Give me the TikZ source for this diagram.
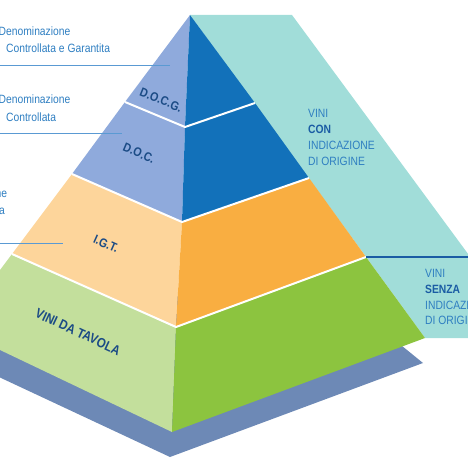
\documentclass[tikz,border=0pt]{standalone}
\usepackage{fontspec}
\setmainfont[FakeStretch=0.86]{Liberation Sans}

\definecolor{periwinkle}{HTML}{8FAADC}
\definecolor{deepblue}{HTML}{1271BA}
\definecolor{peach}{HTML}{FDD59B}
\definecolor{amber}{HTML}{F9AE41}
\definecolor{palegreen}{HTML}{C3DF9C}
\definecolor{leafgreen}{HTML}{8CC43F}
\definecolor{aqua}{HTML}{A1DDD9}
\definecolor{slateblue}{HTML}{6D89B6}
\definecolor{leaderblue}{HTML}{5A9AD3}
\definecolor{noteblue}{HTML}{2E7EC1}
\definecolor{tiernavy}{HTML}{1B4B85}
\definecolor{boldblue}{HTML}{1A5CA4}

\begin{document}
\begin{tikzpicture}[x=1pt,y=-1pt,
        leader/.style={draw=leaderblue,line width=0.9pt},
        tierline/.style={draw=white,line width=2pt,line join=round},
        tier/.style={font=\fontsize{12.5}{12.5}\selectfont\bfseries,
            text=tiernavy,inner sep=0pt},
        sidetext/.style={font=\fontsize{12}{12}\selectfont,text=noteblue,
            anchor=base west,inner sep=0pt}]
\useasboundingbox (0,0) rectangle (468,468);
\clip (0,0) rectangle (468,468);

\coordinate (apex) at (190,15);
\coordinate (l1) at (125,102);
\coordinate (l2) at (72,174);
\coordinate (l3) at (12,254);
\coordinate (l4) at (-44,329);
\coordinate (f1) at (185,127);
\coordinate (f2) at (182,222);
\coordinate (f3) at (176,327);
\coordinate (f4) at (172,432);
\coordinate (r1) at (255,103);
\coordinate (r2) at (309,178);
\coordinate (r3) at (366,257);
\coordinate (r4) at (425,338);

% shadow and band
\fill[slateblue] (-46,356) -- (170,457) -- (423,363) -- (300,263) -- cycle;
\fill[aqua] (apex) -- (292,15) -- (530,338) -- (r4) -- cycle;

% left faces
\fill[periwinkle] (apex) -- (l1) -- (f1) -- cycle;
\fill[periwinkle] (l1) -- (l2) -- (f2) -- (f1) -- cycle;
\fill[peach] (l2) -- (l3) -- (f3) -- (f2) -- cycle;
\fill[palegreen] (l3) -- (l4) -- (f4) -- (f3) -- cycle;

% right faces
\fill[deepblue] (apex) -- (f1) -- (r1) -- cycle;
\fill[deepblue] (f1) -- (f2) -- (r2) -- (r1) -- cycle;
\fill[amber] (f2) -- (f3) -- (r3) -- (r2) -- cycle;
\fill[leafgreen] (f3) -- (f4) -- (r4) -- (r3) -- cycle;

\draw[tierline] (l1) -- (f1) -- (r1);
\draw[tierline] (l2) -- (f2) -- (r2);
\draw[tierline] (l3) -- (f3) -- (r3);

\coordinate (split end) at (470,257);
\draw[draw=boldblue,line width=1.4pt] (r3) -- (split end);

% leader lines
\coordinate (docg from) at (-2,65);
\coordinate (docg to) at (170,65);
\coordinate (doc from) at (-2,133);
\coordinate (doc to) at (122,133);
\coordinate (igt from) at (-2,243);
\coordinate (igt to) at (63,243);
\draw[leader] (docg from) -- (docg to);
\draw[leader] (doc from) -- (doc to);
\draw[leader] (igt from) -- (igt to);

% tier labels
\node[tier,rotate=-22] (docg) at (161,100) {D.O.C.G.};
\node[tier,rotate=-23] (doc) at (139,153) {D.O.C.};
\node[tier,rotate=-24] (igt) at (106,244) {I.G.T.};
\node[tier,rotate=-25,font=\fontsize{13.5}{13.5}\selectfont\bfseries] (vdt) at (78,332) {VINI DA TAVOLA};

% left notes
\node[sidetext] (docg a) at (-1.5,36) {Denominazione};
\node[sidetext] (docg b) at (6,53) {Controllata e Garantita};
\node[sidetext] (doc a) at (-1.5,104) {Denominazione};
\node[sidetext] (doc b) at (6,121.5) {Controllata};
\node[sidetext] (igt a) at (-4.6,197) {ne};
\node[sidetext] (igt b) at (-1,214) {a};

% right notes
\node[sidetext] (con a) at (308,117.5) {VINI};
\node[sidetext,text=boldblue,font=\fontsize{12}{12}\selectfont\bfseries] (con b) at (308,133) {CON};
\node[sidetext] (con c) at (308,149) {INDICAZIONE};
\node[sidetext] (con d) at (308,165) {DI ORIGINE};

\node[sidetext] (senza a) at (425,277.5) {VINI};
\node[sidetext,text=boldblue,font=\fontsize{12}{12}\selectfont\bfseries] (senza b) at (425,293.3) {SENZA};
\node[sidetext] (senza c) at (425,309.3) {INDICAZIONE};
\node[sidetext] (senza d) at (425,324.3) {DI ORIGINE};

\end{tikzpicture}
\end{document}
